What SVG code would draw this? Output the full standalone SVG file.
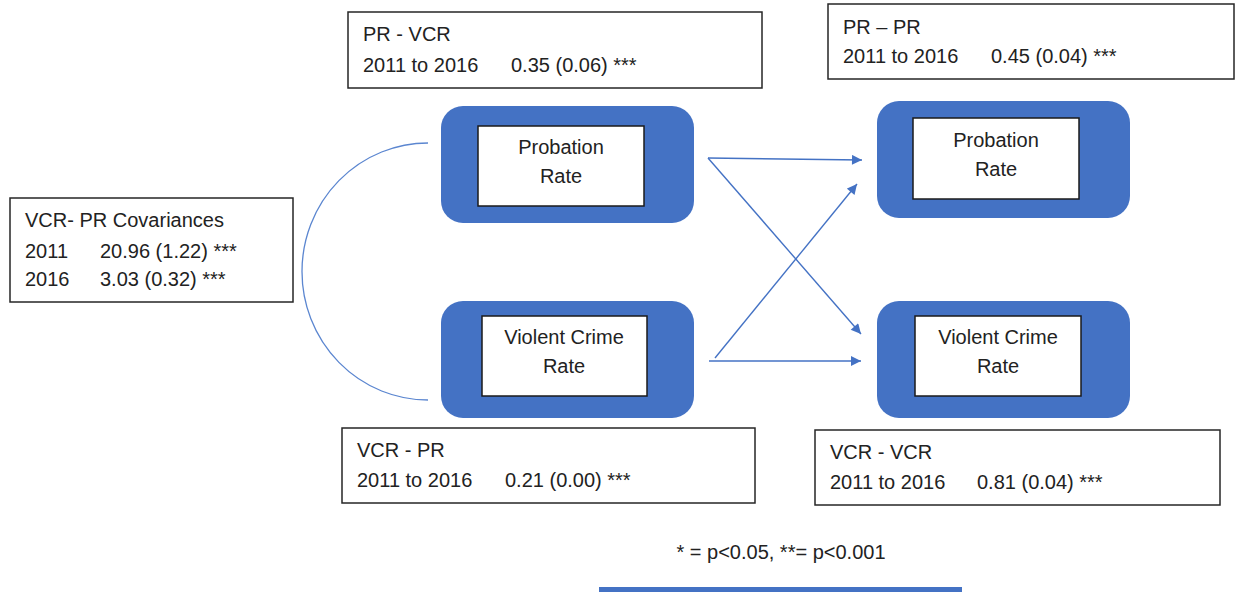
<svg xmlns="http://www.w3.org/2000/svg" width="1236" height="594" viewBox="0 0 1236 594">
  <defs>
    <style>
      .lbl { fill: #fff; stroke: #262626; stroke-width: 1.5; }
      .node { fill: #4472C4; }
      .inner { fill: #fff; stroke: #1a1a1a; stroke-width: 1.5; }
      text { font-family: "Liberation Sans", Arial, sans-serif; font-size: 20px; fill: #222; }
      .c { text-anchor: middle; }
      .edge { fill: none; stroke: #4472C4; stroke-width: 1.4; }
      .cov { fill: none; stroke: #5B86D0; stroke-width: 1.3; }
    </style>
    <marker id="arrow" viewBox="0 0 10 10" refX="10" refY="5" markerWidth="11" markerHeight="10" markerUnits="userSpaceOnUse" orient="auto">
      <path d="M0,0 L10,5 L0,10 Z" fill="#4472C4"/>
    </marker>
  </defs>
  <rect width="1236" height="594" fill="#fff"/>

  <!-- coefficient labels -->
  <g id="label-pr-vcr">
    <rect class="lbl" x="348" y="12" width="414" height="76"/>
    <text x="363" y="41">PR - VCR</text>
    <text x="363" y="72">2011 to 2016</text>
    <text x="511" y="72">0.35 (0.06) ***</text>
  </g>
  <g id="label-pr-pr">
    <rect class="lbl" x="828" y="4" width="406" height="75"/>
    <text x="843" y="34">PR – PR</text>
    <text x="843" y="63">2011 to 2016</text>
    <text x="991" y="63">0.45 (0.04) ***</text>
  </g>
  <g id="label-cov">
    <rect class="lbl" x="10" y="198" width="283" height="104"/>
    <text x="25" y="227">VCR- PR Covariances</text>
    <text x="25" y="258">2011</text>
    <text x="100" y="258">20.96 (1.22) ***</text>
    <text x="25" y="286">2016</text>
    <text x="100" y="286">3.03 (0.32) ***</text>
  </g>
  <g id="label-vcr-pr">
    <rect class="lbl" x="342" y="428" width="413" height="75"/>
    <text x="357" y="457">VCR - PR</text>
    <text x="357" y="487">2011 to 2016</text>
    <text x="505" y="487">0.21 (0.00) ***</text>
  </g>
  <g id="label-vcr-vcr">
    <rect class="lbl" x="815" y="430" width="405" height="75"/>
    <text x="830" y="459">VCR - VCR</text>
    <text x="830" y="489">2011 to 2016</text>
    <text x="977" y="489">0.81 (0.04) ***</text>
  </g>

  <!-- variable nodes -->
  <g id="pr-2011">
    <rect class="node" x="441" y="106" width="253" height="117" rx="22"/>
    <rect class="inner" x="478" y="126" width="166" height="80"/>
    <text class="c" x="561" y="154">Probation</text>
    <text class="c" x="561" y="183">Rate</text>
  </g>
  <g id="vcr-2011">
    <rect class="node" x="441" y="301" width="253" height="117" rx="22"/>
    <rect class="inner" x="482" y="316" width="165" height="80"/>
    <text class="c" x="564" y="344">Violent Crime</text>
    <text class="c" x="564" y="373">Rate</text>
  </g>
  <g id="pr-2016">
    <rect class="node" x="877" y="101" width="253" height="117" rx="22"/>
    <rect class="inner" x="913" y="118" width="166" height="81"/>
    <text class="c" x="996" y="147">Probation</text>
    <text class="c" x="996" y="176">Rate</text>
  </g>
  <g id="vcr-2016">
    <rect class="node" x="877" y="301" width="253" height="117" rx="22"/>
    <rect class="inner" x="915" y="316" width="166" height="80"/>
    <text class="c" x="998" y="344">Violent Crime</text>
    <text class="c" x="998" y="373">Rate</text>
  </g>

  <!-- paths and covariance -->
  <g id="connectors">
    <path class="cov" d="M428,143 A126,128.5 0 0 0 428,400"/>
    <line class="edge" x1="708" y1="158" x2="862" y2="160" marker-end="url(#arrow)"/>
    <line class="edge" x1="708" y1="158" x2="861" y2="334" marker-end="url(#arrow)"/>
    <line class="edge" x1="715" y1="358" x2="857" y2="184" marker-end="url(#arrow)"/>
    <line class="edge" x1="709" y1="361" x2="861" y2="361" marker-end="url(#arrow)"/>
  </g>

  <!-- significance note -->
  <g id="legend">
    <text class="c" x="781" y="559">* = p&lt;0.05, **= p&lt;0.001</text>
    <rect x="599" y="587" width="363" height="5" fill="#4472C4"/>
  </g>
</svg>
